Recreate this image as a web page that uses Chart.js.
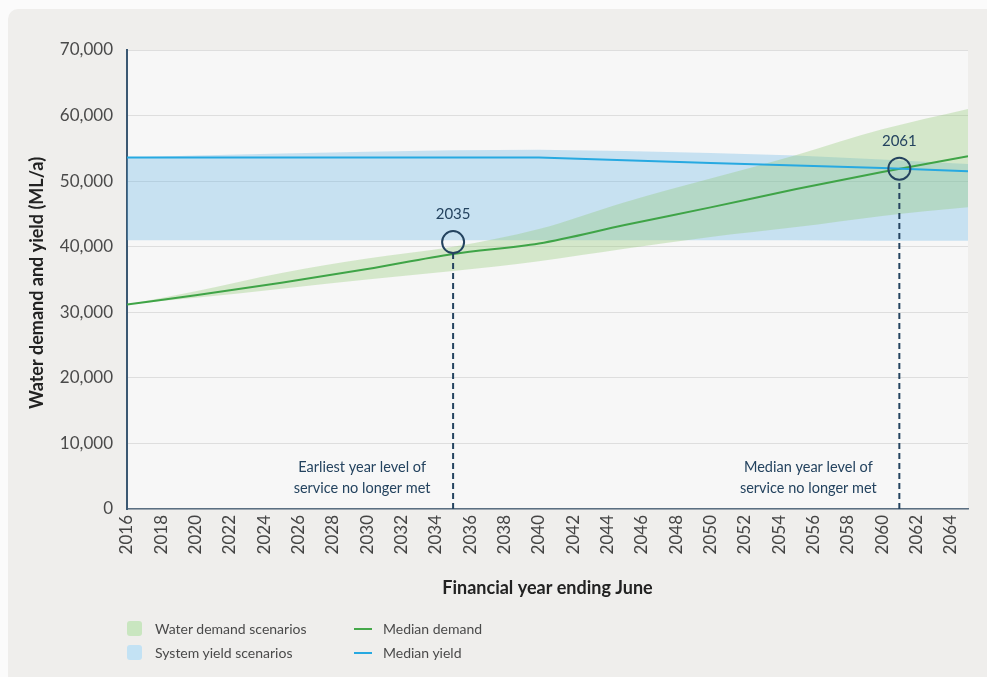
<!DOCTYPE html>
<html>
<head>
<meta charset="utf-8">
<script src="https://cdn.jsdelivr.net/npm/chart.js@4.4.1/dist/chart.umd.min.js"></script>
<style>
  html, body { margin: 0; padding: 0; background: #fbfbfb; }
  #wrap { position: relative; width: 987px; height: 677px; overflow: hidden; }
  #card { position: absolute; left: 8px; top: 9px; width: 1000px; height: 700px; background: #efeeec; border-radius: 10px; }
  #grafica { position: absolute; left: 0; top: 0; }
  .leyenda { position: absolute; font-family: Lato, "Open Sans", sans-serif; font-size: 14px; color: #4a4a4a; line-height: 16px; }
  .caja { position: absolute; width: 15px; height: 15px; border-radius: 3px; }
  .raya { position: absolute; width: 18px; height: 2px; }
</style>
</head>
<body>
<div id="wrap">
  <div id="card"></div>
  <canvas id="grafica" width="987" height="677"></canvas>

  <div class="caja" style="left:127px; top:621px; background:#c9e6c0;"></div>
  <div class="leyenda" style="left:155px; top:621px;">Water demand scenarios</div>
  <div class="caja" style="left:127px; top:645px; background:#c3e2f4;"></div>
  <div class="leyenda" style="left:155px; top:645px;">System yield scenarios</div>
  <div class="raya" style="left:354px; top:628px; background:#45a84a;"></div>
  <div class="leyenda" style="left:383px; top:621px;">Median demand</div>
  <div class="raya" style="left:354px; top:652px; background:#27a9e1;"></div>
  <div class="leyenda" style="left:383px; top:645px;">Median yield</div>
</div>

<script>
// Datos (ML/a)
const anios = [2016, 2020, 2025, 2030, 2035, 2040, 2045, 2050, 2055, 2060, 2065];
const demandaMediana = [31200, 32600, 34500, 36600, 38900, 40500, 43300, 46000, 48800, 51400, 53800];
const demandaBaja    = [31200, 32200, 33600, 35000, 36300, 37800, 39700, 41500, 43000, 44700, 46000];
const demandaAlta    = [31200, 33200, 36000, 38200, 40000, 42700, 46800, 50400, 54000, 57900, 61000];
const rendimientoMediano = [53600, 53600, 53600, 53600, 53600, 53600, 53200, 52750, 52400, 52000, 51500];
const rendimientoBajo    = [41000, 41000, 41000, 41000, 41000, 41000, 41000, 41000, 41000, 40900, 40900];
const rendimientoAlto    = [53600, 53900, 54200, 54500, 54700, 54800, 54600, 54300, 53900, 53300, 52600];

// Años en que ya no se cumple el nivel de servicio
const aniosCruce = [2035, 2061];
const valoresCruce = [40700, 51900];
const iniciosLinea = [38900, 50000];
const etiquetasCruce = ['2035', '2061'];
const notasCruce = [
    ['Earliest year level of', 'service no longer met'],
    ['Median year level of', 'service no longer met']
];

const etiquetasX = [2016, 2018, 2020, 2022, 2024, 2026, 2028, 2030, 2032, 2034, 2036, 2038, 2040,
    2042, 2044, 2046, 2048, 2050, 2052, 2054, 2056, 2058, 2060, 2062, 2064];

const puntos = (ys) => anios.map((a, i) => ({ x: a, y: ys[i] }));
const fuente = 'Lato, "Open Sans", sans-serif';
const azulOscuro = '#24435f';

const pluginExtras = {
    id: 'extras',
    beforeDraw(chart) {
        const { ctx, chartArea } = chart;
        ctx.save();
        ctx.fillStyle = '#f7f7f7';
        ctx.fillRect(chartArea.left, chartArea.top, chartArea.right - chartArea.left, chartArea.bottom - chartArea.top);
        ctx.restore();
    },
    afterDraw(chart) {
        const { ctx, scales } = chart;
        ctx.save();
        // titulo del eje Y
        ctx.translate(37, 283);
        ctx.rotate(-Math.PI / 2);
        ctx.font = 'bold 18px ' + fuente;
        ctx.fillStyle = '#222';
        ctx.textAlign = 'center';
        ctx.textBaseline = 'middle';
        ctx.fillText('Water demand and yield (ML/a)', 0, 0);
        ctx.restore();

        ctx.save();
        ctx.fillStyle = azulOscuro;
        ctx.textAlign = 'center';
        ctx.textBaseline = 'middle';
        aniosCruce.forEach((a, i) => {
            const px = scales.x.getPixelForValue(a);
            const py = scales.y.getPixelForValue(valoresCruce[i]);
            ctx.font = '15px ' + fuente;
            ctx.fillText(etiquetasCruce[i], px, py - 28);
            ctx.font = '14.5px ' + fuente;
            notasCruce[i].forEach((t, j) => {
                ctx.fillText(t, px - 91, 467 + j * 21);
            });
        });
        ctx.restore();
    }
};

const ctx = document.getElementById('grafica').getContext('2d');
new Chart(ctx, {
    type: 'line',
    data: {
        datasets: [
            {
                label: 'System yield scenarios',
                data: puntos(rendimientoAlto),
                borderWidth: 0,
                pointRadius: 0,
                backgroundColor: 'rgba(100, 180, 230, 0.32)',
                fill: '+1',
                order: 60
            },
            {
                label: 'yield low',
                data: puntos(rendimientoBajo),
                borderWidth: 0,
                pointRadius: 0,
                fill: false,
                order: 61
            },
            {
                label: 'Water demand scenarios',
                data: puntos(demandaAlta),
                borderWidth: 0,
                pointRadius: 0,
                backgroundColor: 'rgba(140, 200, 110, 0.32)',
                cubicInterpolationMode: 'monotone',
                fill: '+1',
                order: 50
            },
            {
                label: 'demand low',
                data: puntos(demandaBaja),
                borderWidth: 0,
                pointRadius: 0,
                cubicInterpolationMode: 'monotone',
                fill: false,
                order: 51
            },
            {
                label: 'Median demand',
                data: puntos(demandaMediana),
                borderColor: '#3fa447',
                borderWidth: 2,
                pointRadius: 0,
                cubicInterpolationMode: 'monotone',
                fill: false,
                order: 40
            },
            {
                label: 'Median yield',
                data: puntos(rendimientoMediano),
                borderColor: '#27a9e1',
                borderWidth: 2,
                pointRadius: 0,
                fill: false,
                order: 30
            },
            // lineas punteadas verticales
            ...aniosCruce.map((a, i) => ({
                label: 'drop ' + a,
                data: [{ x: a, y: 0 }, { x: a, y: iniciosLinea[i] }],
                borderColor: azulOscuro,
                borderWidth: 2,
                borderDash: [6, 4],
                pointRadius: 0,
                fill: false,
                order: 20
            })),
            {
                label: 'cruces',
                data: aniosCruce.map((a, i) => ({ x: a, y: valoresCruce[i] })),
                showLine: false,
                pointRadius: 11,
                pointBorderWidth: 2,
                pointBorderColor: azulOscuro,
                pointBackgroundColor: 'rgba(0,0,0,0)',
                fill: false,
                order: 10
            }
        ]
    },
    options: {
        responsive: false,
        animation: false,
        layout: { padding: { left: 8, top: 50, right: 19, bottom: 77 } },
        plugins: {
            legend: { display: false },
            tooltip: { enabled: false }
        },
        scales: {
            x: {
                type: 'linear',
                min: 2016,
                max: 2065,
                afterBuildTicks: (axis) => { axis.ticks = etiquetasX.map(v => ({ value: v })); },
                afterFit: (scale) => { scale.height = 91; },
                grid: { display: false, drawTicks: false },
                border: { color: '#5b6f82', width: 1.5 },
                ticks: {
                    minRotation: 90,
                    maxRotation: 90,
                    padding: 6,
                    color: '#444',
                    font: { family: fuente, size: 17 },
                    callback: (v) => String(v)
                },
                title: {
                    display: true,
                    text: 'Financial year ending June',
                    color: '#222',
                    font: { family: fuente, size: 18, weight: 'bold' },
                    padding: { top: 0, bottom: 1 }
                }
            },
            y: {
                min: 0,
                max: 70000,
                afterFit: (scale) => { scale.width = 119; },
                grid: { color: '#dedede', lineWidth: 1, drawTicks: false },
                border: { color: '#3b5872', width: 2 },
                ticks: {
                    stepSize: 10000,
                    padding: 14,
                    color: '#4a4a4a',
                    font: { family: fuente, size: 17 },
                    callback: (v) => v.toLocaleString('en-US')
                }
            }
        }
    },
    plugins: [pluginExtras]
});
</script>
</body>
</html>
